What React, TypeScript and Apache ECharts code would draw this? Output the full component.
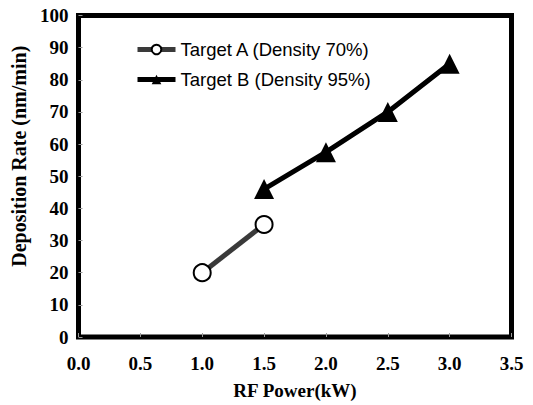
import React, { useEffect, useRef } from "react";
import * as echarts from "echarts";

const xTicks = [0, 0.5, 1, 1.5, 2, 2.5, 3, 3.5];
const targetAPower = [1.0, 1.5];
const targetARate = [20, 35];
const targetBPower = [1.5, 2.0, 2.5, 3.0];
const targetBRate = [46, 57.5, 70, 85];
const seriesNames = ["Target A (Density 70%)", "Target B (Density 95%)"];

export default function App() {
  const ref = useRef<HTMLDivElement>(null);
  useEffect(() => {
    if (!ref.current) return;
    const chart = echarts.init(ref.current, null, { renderer: "svg" });
    const serif = "'Liberation Serif', 'Times New Roman', serif";
    chart.setOption({
      animation: false,
      backgroundColor: "#fff",
      grid: {
        left: 78.5,
        right: 21.5,
        top: 15.5,
        bottom: 67.5,
        show: true,
        borderColor: "#000",
        borderWidth: 5,
        backgroundColor: "transparent",
      },
      legend: {
        orient: "vertical",
        left: 135,
        top: 40,
        padding: 0,
        itemWidth: 38,
        itemHeight: 12,
        itemGap: 11,
        data: seriesNames,
        lineStyle: { width: 5 },
        textStyle: {
          fontFamily: "'Liberation Sans', Arial, sans-serif",
          fontSize: 18.5,
          color: "#000",
        },
      },
      xAxis: {
        type: "value",
        min: 0,
        max: 3.5,
        interval: 0.5,
        name: "RF Power(kW)",
        nameLocation: "middle",
        nameGap: 44,
        nameTextStyle: { fontFamily: serif, fontWeight: "bold", fontSize: 19, color: "#000" },
        axisLine: { show: false },
        axisTick: { show: true, inside: true, length: 4, lineStyle: { color: "#999", width: 1 } },
        splitLine: { show: false },
        axisLabel: {
          margin: 17,
          fontFamily: serif,
          fontWeight: "bold",
          fontSize: 19,
          color: "#000",
          formatter: (v: number) => (xTicks.includes(v) ? v.toFixed(1) : ""),
        },
      },
      yAxis: {
        type: "value",
        min: 0,
        max: 100,
        interval: 10,
        name: "Deposition Rate (nm/min)",
        nameLocation: "middle",
        nameGap: 44,
        nameTextStyle: {
          fontFamily: serif,
          fontWeight: "bold",
          fontSize: 20,
          color: "#000",
          padding: [0, 0, 0, 40],
        },
        axisLine: { show: false },
        axisTick: { show: true, inside: true, length: 4, lineStyle: { color: "#999", width: 1 } },
        splitLine: { show: false },
        axisLabel: {
          margin: 10,
          fontFamily: serif,
          fontWeight: "bold",
          fontSize: 19,
          color: "#000",
        },
      },
      series: [
        {
          name: seriesNames[0],
          type: "line",
          data: targetAPower.map((x, i) => [x, targetARate[i]]),
          symbol: "circle",
          symbolSize: 17,
          lineStyle: { color: "#3a3a3a", width: 5 },
          itemStyle: { color: "#fff", borderColor: "#000", borderWidth: 2 },
          z: 3,
        },
        {
          name: seriesNames[1],
          type: "line",
          data: targetBPower.map((x, i) => [x, targetBRate[i]]),
          symbol: "triangle",
          symbolSize: [20, 20],
          lineStyle: { color: "#000", width: 5 },
          itemStyle: { color: "#000" },
          z: 3,
        },
      ],
    });
    return () => chart.dispose();
  }, []);
  return (
    <div
      ref={ref}
      style={{ position: "fixed", left: 0, top: 0, width: 533, height: 405 }}
    />
  );
}
